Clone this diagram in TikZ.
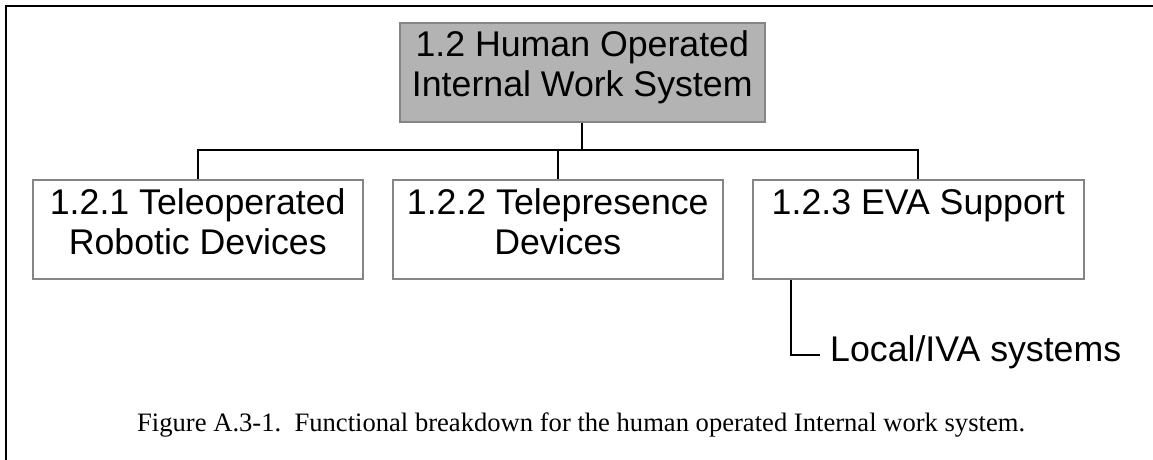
\documentclass[tikz,border=0pt]{standalone}
\usepackage{fontspec}
\setmainfont{Liberation Serif}
\newfontfamily\arialfont{Liberation Sans}
\definecolor{boxgray}{HTML}{B3B3B3}
\definecolor{edgegray}{HTML}{858585}
\begin{document}
\begin{tikzpicture}[x=1pt,y=-1pt,
  box/.style={draw=edgegray, line width=1.5pt, inner sep=0pt, align=center,
    font=\arialfont\fontsize{35.7}{40.5}\selectfont, anchor=north west,
    text height=75pt, text depth=24pt, minimum width=330pt},
  topbox/.style={box, fill=boxgray, text height=74pt, text depth=25pt, minimum width=365pt},
  conn/.style={draw=black, line width=1.6pt},
  frame/.style={draw=black, line width=2pt}]
\useasboundingbox (0,0) rectangle (1153,459);
\clip (0,0) rectangle (1153,459);
\draw[frame] (6,6) rectangle (1170,475);

\node[topbox] (top) at (399,22) {1.2 Human Operated\\Internal Work System};
\node[box] (b1) at (32,179) {1.2.1 Teleoperated\\Robotic Devices};
\node[box] (b2) at (392,179) {1.2.2 Telepresence\\Devices};
\node[box, minimum width=331pt] (b3) at (752,179) {1.2.3 EVA Support\\\strut};
\node[font=\arialfont\fontsize{35.7}{40}\selectfont, inner sep=0pt, anchor=base west] (local) at (830,361) {Local/IVA systems};

\coordinate (bus) at (0,150);
\draw[conn] (top.south) -- (top.south |- bus);
\draw[conn] (b1.north) -- (b1.north |- bus) -- (b3.north |- bus) -- (b3.north);
\draw[conn] (b2.north) -- (b2.north |- bus);

\coordinate (lk) at (791,355);
\coordinate (le) at (820,355);
\draw[conn] (b3.south west -| lk) -- (lk) -- (le);

\node[font=\fontsize{26.6}{30}\selectfont, inner sep=0pt, anchor=base west] (cap) at (137,431)
  {Figure A.3-1.\ \ Functional breakdown for the human operated Internal work system.};
\end{tikzpicture}
\end{document}
